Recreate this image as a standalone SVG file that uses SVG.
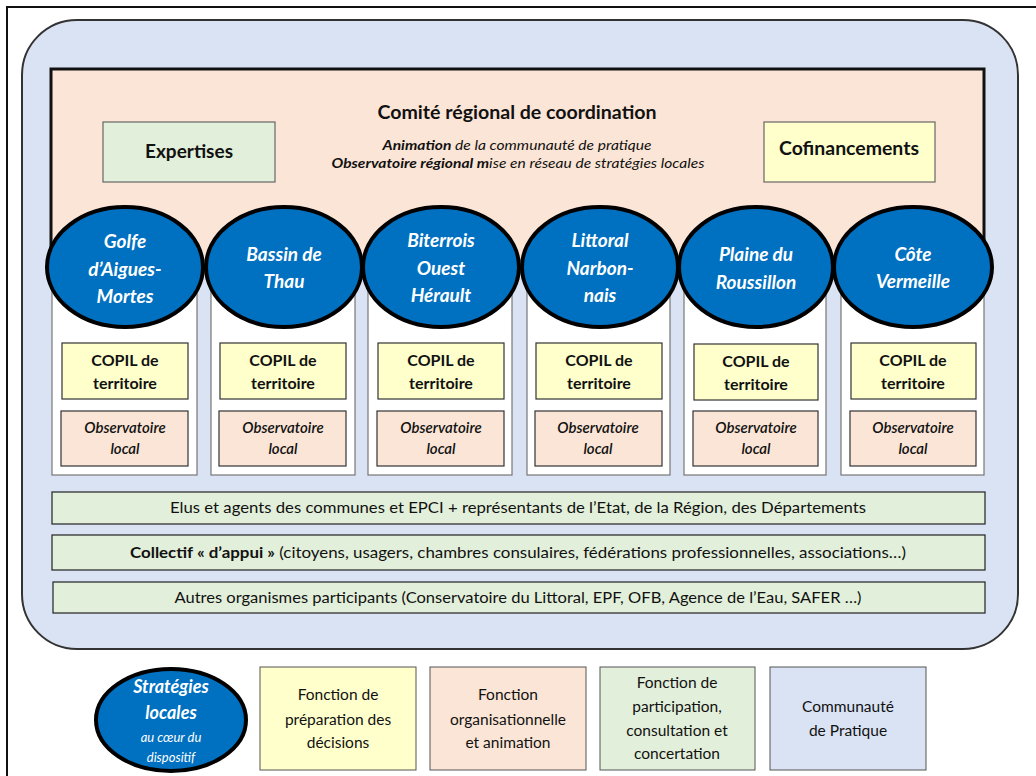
<svg xmlns="http://www.w3.org/2000/svg" width="1036" height="776" viewBox="0 0 1036 776">
<style>
text{font-family:Lato,"Open Sans","Liberation Sans",sans-serif;fill:#111;text-anchor:middle}
.reg{fill:#fbe5d6;stroke:#111;stroke-width:3}
.ell{fill:#0070c0;stroke:#000;stroke-width:4}
.et{fill:#fff;font-weight:bold;font-style:italic;font-size:19px}
.col{fill:#fff;stroke:#777;stroke-width:1.2}
.copil{fill:#ffffcc;stroke:#333;stroke-width:1.2}
.obs{fill:#fbe5d6;stroke:#333;stroke-width:1.2}
.ct{font-weight:bold;font-size:16px}
.ot{font-style:italic;font-weight:600;font-size:15px}
.bar{fill:#e2efda;stroke:#222;stroke-width:1.2}
.bt{font-size:15px}
.leg{stroke:#555;stroke-width:1}
.lt{font-size:15.5px}
.wt{fill:#fff;font-style:italic}
</style>
<rect x="7" y="7" width="1040" height="790" fill="#fff" stroke="#111" stroke-width="2"/>
<rect x="22" y="20" width="996" height="629" rx="55" ry="55" fill="#dae3f3" stroke="#333" stroke-width="2"/>

<g id="comite">
<rect class="reg" x="51" y="69" width="933" height="200"/>
<text x="517" y="119" font-weight="bold" font-size="19" textLength="279" lengthAdjust="spacingAndGlyphs">Comité régional de coordination</text>
<text x="517" y="150" font-size="14" font-style="italic" textLength="269" lengthAdjust="spacingAndGlyphs"><tspan font-weight="bold">Animation</tspan> de la communauté de pratique</text>
<text x="518" y="168" font-size="14" font-style="italic" textLength="373" lengthAdjust="spacingAndGlyphs"><tspan font-weight="bold">Observatoire régional m</tspan>ise en réseau de stratégies locales</text>
</g>
<g id="expertises">
<rect x="103" y="122" width="172" height="60" fill="#e2efda" stroke="#666" stroke-width="1.2"/>
<text x="189" y="158" font-weight="bold" font-size="18" textLength="88" lengthAdjust="spacingAndGlyphs">Expertises</text>
</g>
<g id="cofinancements">
<rect x="764" y="122" width="171" height="60" fill="#ffffcc" stroke="#666" stroke-width="1.2"/>
<text x="849" y="155" font-weight="bold" font-size="18" textLength="140" lengthAdjust="spacingAndGlyphs">Cofinancements</text>
</g>

<g id="territoire-1">
<rect class="col" x="52" y="262" width="145" height="213"/>
<rect class="copil" x="62" y="343" width="126" height="56"/>
<text class="ct" x="125" y="366">COPIL de</text><text class="ct" x="125" y="389">territoire</text>
<rect class="obs" x="61" y="411" width="127" height="55"/>
<text class="ot" x="125" y="433">Observatoire</text><text class="ot" x="125" y="454">local</text>
<ellipse class="ell" cx="125" cy="267" rx="78" ry="60"/>
<text class="et" x="125" y="248">Golfe</text><text class="et" x="125" y="276">d’Aigues-</text><text class="et" x="125" y="303">Mortes</text>
</g>
<g id="territoire-2">
<rect class="col" x="211" y="262" width="144" height="213"/>
<rect class="copil" x="220" y="343" width="126" height="56"/>
<text class="ct" x="283" y="366">COPIL de</text><text class="ct" x="283" y="389">territoire</text>
<rect class="obs" x="219" y="411" width="127" height="55"/>
<text class="ot" x="283" y="433">Observatoire</text><text class="ot" x="283" y="454">local</text>
<ellipse class="ell" cx="284" cy="267" rx="78" ry="60"/>
<text class="et" x="284" y="261">Bassin de</text><text class="et" x="284" y="288">Thau</text>
</g>
<g id="territoire-3">
<rect class="col" x="368" y="262" width="144" height="213"/>
<rect class="copil" x="378" y="343" width="126" height="56"/>
<text class="ct" x="441" y="366">COPIL de</text><text class="ct" x="441" y="389">territoire</text>
<rect class="obs" x="377" y="411" width="127" height="55"/>
<text class="ot" x="441" y="433">Observatoire</text><text class="ot" x="441" y="454">local</text>
<ellipse class="ell" cx="441" cy="267" rx="78" ry="60"/>
<text class="et" x="441" y="247">Biterrois</text><text class="et" x="441" y="275">Ouest</text><text class="et" x="441" y="302">Hérault</text>
</g>
<g id="territoire-4">
<rect class="col" x="527" y="262" width="143" height="213"/>
<rect class="copil" x="536" y="343" width="126" height="56"/>
<text class="ct" x="599" y="366">COPIL de</text><text class="ct" x="599" y="389">territoire</text>
<rect class="obs" x="535" y="411" width="127" height="55"/>
<text class="ot" x="598" y="433">Observatoire</text><text class="ot" x="598" y="454">local</text>
<ellipse class="ell" cx="600" cy="267" rx="78" ry="60"/>
<text class="et" x="600" y="247">Littoral</text><text class="et" x="600" y="275">Narbon-</text><text class="et" x="600" y="302">nais</text>
</g>
<g id="territoire-5">
<rect class="col" x="684" y="262" width="142" height="213"/>
<rect class="copil" x="694" y="344" width="124" height="56"/>
<text class="ct" x="756" y="367">COPIL de</text><text class="ct" x="756" y="390">territoire</text>
<rect class="obs" x="693" y="411" width="125" height="55"/>
<text class="ot" x="756" y="433">Observatoire</text><text class="ot" x="756" y="454">local</text>
<ellipse class="ell" cx="756" cy="267" rx="77" ry="60"/>
<text class="et" x="756" y="261">Plaine du</text><text class="et" x="756" y="289">Roussillon</text>
</g>
<g id="territoire-6">
<rect class="col" x="841" y="262" width="143" height="213"/>
<rect class="copil" x="851" y="343" width="125" height="56"/>
<text class="ct" x="913" y="366">COPIL de</text><text class="ct" x="913" y="389">territoire</text>
<rect class="obs" x="850" y="411" width="126" height="55"/>
<text class="ot" x="913" y="433">Observatoire</text><text class="ot" x="913" y="454">local</text>
<ellipse class="ell" cx="913" cy="267" rx="79" ry="60"/>
<text class="et" x="913" y="261">Côte</text><text class="et" x="913" y="288">Vermeille</text>
</g>

<g id="elus">
<rect class="bar" x="52" y="492" width="933" height="32"/>
<text class="bt" x="518" y="513" textLength="696" lengthAdjust="spacingAndGlyphs">Elus et agents des communes et EPCI + représentants de l’Etat, de la Région, des Départements</text>
</g>
<g id="collectif">
<rect class="bar" x="52" y="535" width="933" height="35"/>
<text class="bt" x="518" y="558" textLength="776" lengthAdjust="spacingAndGlyphs"><tspan font-weight="bold">Collectif « d’appui »</tspan> (citoyens, usagers, chambres consulaires, fédérations professionnelles, associations…)</text>
</g>
<g id="autres">
<rect class="bar" x="53" y="582" width="932" height="31"/>
<text class="bt" x="518" y="603" textLength="687" lengthAdjust="spacingAndGlyphs">Autres organismes participants (Conservatoire du Littoral, EPF, OFB, Agence de l’Eau, SAFER …)</text>
</g>

<g id="legende-strategies">
<ellipse class="ell" cx="171" cy="720" rx="75" ry="51"/>
<text class="wt" x="171" y="693" font-weight="bold" font-size="18" style="fill:#fff">Stratégies</text>
<text class="wt" x="171" y="719" font-weight="bold" font-size="18" style="fill:#fff">locales</text>
<text class="wt" x="171" y="742" font-size="13" style="fill:#fff">au cœur du</text>
<text class="wt" x="171" y="762" font-size="13" style="fill:#fff">dispositif</text>
</g>
<g id="legende-preparation">
<rect class="leg" x="260" y="667" width="156" height="103" fill="#ffffcc"/>
<text class="lt" x="338" y="700">Fonction de</text><text class="lt" x="338" y="725">préparation des</text><text class="lt" x="338" y="748">décisions</text>
</g>
<g id="legende-organisation">
<rect class="leg" x="430" y="667" width="156" height="103" fill="#fbe5d6"/>
<text class="lt" x="508" y="700">Fonction</text><text class="lt" x="508" y="725">organisationnelle</text><text class="lt" x="508" y="748">et animation</text>
</g>
<g id="legende-participation">
<rect class="leg" x="600" y="667" width="155" height="103" fill="#e2efda"/>
<text class="lt" x="677" y="688">Fonction de</text><text class="lt" x="677" y="712">participation,</text><text class="lt" x="677" y="736">consultation et</text><text class="lt" x="677" y="759">concertation</text>
</g>
<g id="legende-communaute">
<rect class="leg" x="770" y="667" width="156" height="103" fill="#dae3f3"/>
<text class="lt" x="848" y="712">Communauté</text><text class="lt" x="848" y="736">de Pratique</text>
</g>
<g id="connectors"></g>
</svg>
